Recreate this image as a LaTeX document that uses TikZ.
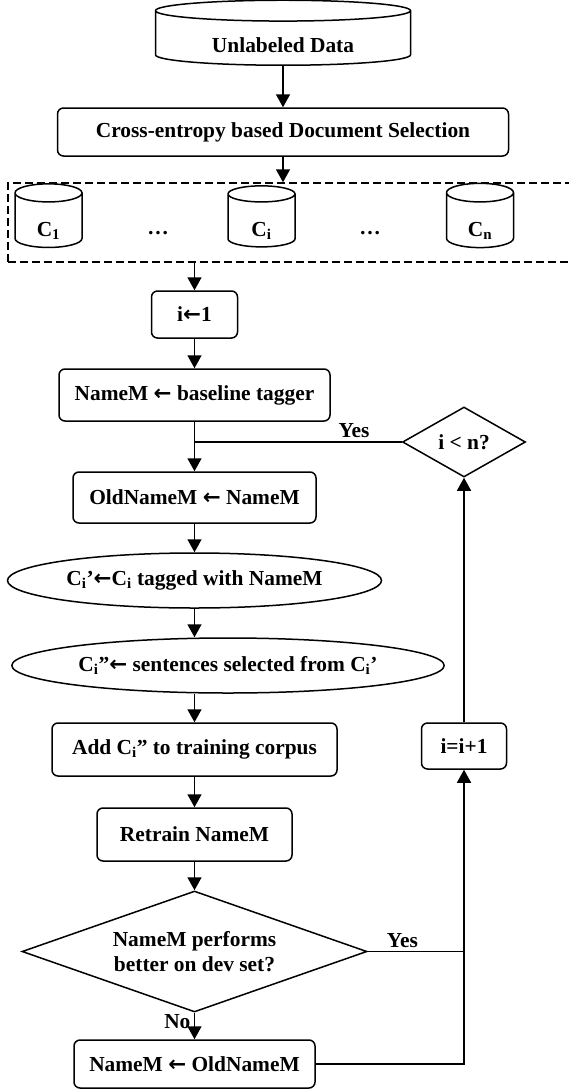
\documentclass[tikz,border=0pt]{standalone}
\usepackage{fontspec}
\setmainfont{Liberation Serif}
\newfontfamily\arrowfont{DejaVu Sans}
\usetikzlibrary{shapes,arrows.meta}
\tikzstyle{line} = [draw, line width=1.5pt]
\tikzstyle{arrow} = [line width=1.5pt, -{Triangle[length=13pt,width=14pt]}]
\tikzstyle{box} = [rectangle, rounded corners=6pt, draw=black, line width=1.5pt, align=center]
\tikzstyle{store} = [cylinder, shape border rotate=90, draw=black, line width=1.5pt, align=center]
\tikzstyle{test} = [diamond, draw=black, line width=1.5pt, align=center, inner sep=0pt]
\newcommand{\assign}{{\arrowfont\bfseries ←}}

\begin{document}
\begin{tikzpicture}[x=1pt, y=-1pt, font=\fontsize{21.4}{25.7}\selectfont\bfseries]
        \useasboundingbox (0,0) rectangle (569,1090);

        \node (1) [store, aspect=0.14, minimum width=255pt, minimum height=65pt, text height=26pt, text depth=0pt] at (283,39.5) {Unlabeled Data};
        \node (2) [box, minimum width=451pt, minimum height=48pt] at (283,132) {Cross-entropy based Document Selection};

        % corpus split
        \node (CC) [rectangle, draw=black, line width=1.5pt, dash pattern=on 8pt off 4pt, minimum width=567pt, minimum height=79pt] at (291.5,222.5) {};
        \node (C1) [store, aspect=0.6, minimum width=67pt, minimum height=61pt, text height=30pt, text depth=3pt] at (48.5,222.5) {C\textsubscript{1}};
        \node (Ci) [store, aspect=0.6, minimum width=67pt, minimum height=61pt, text height=30pt, text depth=3pt] at (261.5,222.5) {C\textsubscript{i}};
        \node (Cn) [store, aspect=0.6, minimum width=67pt, minimum height=61pt, text height=30pt, text depth=3pt] at (480,222.5) {C\textsubscript{n}};
        \node (D1) at (158,233) {…};
        \node (D2) at (370,233) {…};

        \draw[arrow] (1) -- (2);
        \draw[arrow] (2) -- (2.south |- CC.north);

        \node (3) [box, minimum width=86pt, minimum height=47pt] at (194.5,314.5) {i\assign1};
        \node (4) [box, minimum width=271pt, minimum height=52pt] at (194.5,395) {NameM \assign{} baseline tagger};
        \node (5) [box, minimum width=243pt, minimum height=51pt] at (194.5,497.5) {OldNameM \assign{} NameM};

        \draw[arrow] (CC.south -| 3.north) -- (3);
        \draw[arrow] (3) -- (4);
        \draw[arrow] (4) -- (5);

        \node (6) [ellipse, draw=black, line width=1.5pt, minimum width=374pt, minimum height=55pt] at (194.5,580.5) {C\textsubscript{i}’\assign C\textsubscript{i} tagged with NameM};
        \node (7) [ellipse, draw=black, line width=1.5pt, minimum width=430pt, minimum height=55pt] at (228,665.5) {C\textsubscript{i}”\assign{} sentences selected from C\textsubscript{i}’};

        \draw[arrow] (5) -- (6);
        \draw[arrow] (6) -- (6.south |- 7.north);

        \node (8) [box, minimum width=285pt, minimum height=53pt] at (194.5,749.5) {Add C\textsubscript{i}” to training corpus};
        \node (9) [box, minimum width=195pt, minimum height=53pt] at (194.5,834.5) {Retrain NameM};
        \node (10) [test, aspect=2.85, minimum width=345pt, minimum height=121pt] at (194.5,951.5) {NameM performs \\ better on dev set?};
        \node (11) [box, minimum width=241pt, minimum height=48pt] at (194.5,1064) {NameM \assign{} OldNameM};

        \draw[arrow] (7.south -| 8.north) -- (8);
        \draw[arrow] (8) -- (9);
        \draw[arrow] (9) -- (10);
        \draw[arrow] (10) -- (11) node (NO) [left, pos=0.35] {No};

        % loop back
        \node (12) [box, minimum width=85pt, minimum height=46pt] at (464,746) {i=i+1};
        \node (13) [test, aspect=1.75, minimum width=123pt, minimum height=70pt] at (464,442) {i < n?};

        \draw[line] (10.east) -- (10.east -| 12.south) node (Y2) [above, pos=0.36] {Yes};
        \draw[arrow] (11.east) -| (12.south);
        \draw[arrow] (12) -- (13);
        \draw[line] (13.west) -- (13.west -| 4.south) node (Y1) [above, pos=0.23] {Yes};

    \end{tikzpicture}
\end{document}
